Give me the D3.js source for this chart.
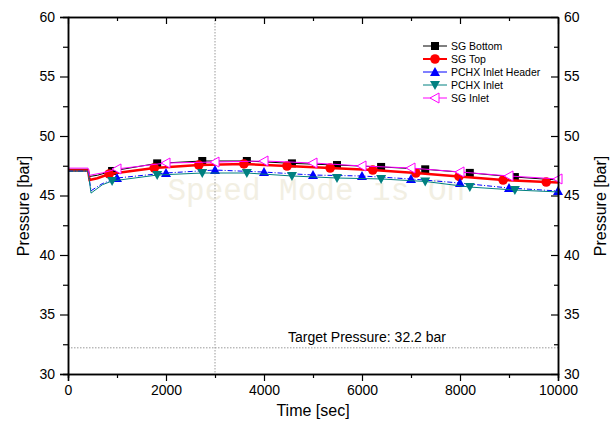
<!DOCTYPE html>
<html>
<head>
<meta charset="utf-8">
<script src="https://cdn.jsdelivr.net/npm/d3@7"></script>
<style>
  body { margin: 0; background: #fff; }
  svg text { font-family: "Liberation Sans", Arial, sans-serif; }
</style>
</head>
<body>
<div id="chart"></div>
<script>
// data (time in sec, pressure in bar)
const sgBottomT = [0, 410, 440, 600, 900, 1820, 2740, 3650, 4570, 5490, 6390, 7290, 8200, 9120, 10000];
const sgBottomP = [47.2, 47.2, 46.6, 46.7, 47.06, 47.7, 47.9, 47.9, 47.7, 47.56, 47.4, 47.2, 46.9, 46.55, 46.3];
const sgBottomMarks = [4, 5, 6, 7, 8, 9, 10, 11, 12, 13];

const sgTopT = [0, 410, 440, 600, 840, 1760, 2670, 3590, 4470, 5350, 6220, 7100, 7980, 8880, 9760, 10000];
const sgTopP = [47.1, 47.1, 46.3, 46.45, 46.81, 47.31, 47.56, 47.65, 47.48, 47.31, 47.14, 46.89, 46.6, 46.3, 46.13, 46.1];
const sgTopMarks = [4, 5, 6, 7, 8, 9, 10, 11, 12, 13, 14];

const headerT = [0, 410, 470, 700, 1000, 2000, 3000, 4000, 5000, 6000, 7000, 8000, 9000, 10000];
const headerP = [47.05, 47.05, 45.4, 46.0, 46.47, 46.89, 47.14, 46.97, 46.72, 46.64, 46.39, 46.05, 45.63, 45.38];
const headerMarks = [4, 5, 6, 7, 8, 9, 10, 11, 12, 13];

const pchxT = [0, 410, 470, 700, 900, 1820, 2740, 3650, 4570, 5490, 6390, 7290, 8200, 9120, 10000];
const pchxP = [47.05, 47.05, 45.2, 45.9, 46.22, 46.72, 46.89, 46.89, 46.64, 46.47, 46.39, 46.18, 45.71, 45.46, 45.3];
const pchxMarks = [4, 5, 6, 7, 8, 9, 10, 11, 12, 13];

const sgInletT = [0, 410, 440, 700, 1000, 2000, 3000, 4000, 5000, 6000, 7000, 8000, 9000, 10000];
const sgInletP = [47.3, 47.3, 46.7, 46.9, 47.23, 47.73, 47.81, 47.9, 47.73, 47.48, 47.31, 46.98, 46.64, 46.39];
const sgInletMarks = [4, 5, 6, 7, 8, 9, 10, 11, 12, 13];

const seriesNames = ["SG Bottom", "SG Top", "PCHX Inlet Header", "PCHX Inlet", "SG Inlet"];

const xMajor = [0, 2000, 4000, 6000, 8000, 10000];
const xMinor = [1000, 3000, 5000, 7000, 9000];
const yMajor = [30, 35, 40, 45, 50, 55, 60];
const yMinor = [32.5, 37.5, 42.5, 47.5, 52.5, 57.5];

const targetPressure = 32.2;
const cursorTime = 3000;

// ---- layout
const width = 615, height = 431;
const plot = { left: 68, right: 558, top: 17, bottom: 374 };

const svg = d3.select("#chart").append("svg")
  .attr("width", width)
  .attr("height", height);

const x = d3.scaleLinear().domain([0, 10000]).range([plot.left, plot.right]);
const y = d3.scaleLinear().domain([30, 60]).range([plot.bottom, plot.top]);

// watermark
svg.append("text")
  .attr("x", x(2030))
  .attr("y", y(44.6))
  .style("font-family", "'Liberation Mono', 'DejaVu Sans Mono', monospace")
  .attr("font-size", 31)
  .attr("fill", "#f2efe3")
  .text("Speed Mode is On");

// cursor lines
svg.append("line")
  .attr("x1", x(cursorTime)).attr("x2", x(cursorTime))
  .attr("y1", plot.top).attr("y2", plot.bottom)
  .attr("stroke", "#9a9a9a").attr("stroke-width", 1)
  .attr("stroke-dasharray", "1.5,1.5");

svg.append("line")
  .attr("x1", plot.left).attr("x2", plot.right)
  .attr("y1", y(targetPressure)).attr("y2", y(targetPressure))
  .attr("stroke", "#9a9a9a").attr("stroke-width", 1)
  .attr("stroke-dasharray", "1.5,1.5");

svg.append("text")
  .attr("x", x(4490))
  .attr("y", y(targetPressure) - 6)
  .attr("font-size", 14)
  .text("Target Pressure: " + targetPressure + " bar");

// ---- series
const series = [
  { name: seriesNames[0], t: sgBottomT, p: sgBottomP, marks: sgBottomMarks, color: "#000000", width: 1, dash: null, shape: "square" },
  { name: seriesNames[1], t: sgTopT, p: sgTopP, marks: sgTopMarks, color: "#ff0000", width: 2.5, dash: null, shape: "circle" },
  { name: seriesNames[2], t: headerT, p: headerP, marks: headerMarks, color: "#0000ff", width: 1, dash: "5,2,1,2", shape: "up" },
  { name: seriesNames[3], t: pchxT, p: pchxP, marks: pchxMarks, color: "#008080", width: 1, dash: null, shape: "down" },
  { name: seriesNames[4], t: sgInletT, p: sgInletP, marks: sgInletMarks, color: "#ff00ff", width: 1, dash: null, shape: "left" }
];

const line = d3.line().x(d => x(d[0])).y(d => y(d[1]));

function drawMarker(g, shape, color, cx, cy) {
  if (shape === "square") {
    g.append("rect").attr("x", cx - 4).attr("y", cy - 4).attr("width", 8).attr("height", 8)
      .attr("fill", color);
  } else if (shape === "circle") {
    g.append("circle").attr("cx", cx).attr("cy", cy).attr("r", 4.8).attr("fill", color);
  } else if (shape === "up") {
    g.append("path").attr("d", `M${cx},${cy - 5}L${cx + 5},${cy + 4}L${cx - 5},${cy + 4}Z`).attr("fill", color);
  } else if (shape === "down") {
    g.append("path").attr("d", `M${cx},${cy + 5}L${cx + 5},${cy - 4}L${cx - 5},${cy - 4}Z`).attr("fill", color);
  } else if (shape === "left") {
    g.append("path").attr("d", `M${cx - 5},${cy}L${cx + 4},${cy - 5}L${cx + 4},${cy + 5}Z`)
      .attr("fill", "#fff").attr("stroke", color).attr("stroke-width", 1);
  }
}

series.forEach(s => {
  const pts = s.t.map((t, i) => [t, s.p[i]]);
  const g = svg.append("g");
  g.append("path")
    .datum(pts)
    .attr("d", line)
    .attr("fill", "none")
    .attr("stroke", s.color)
    .attr("stroke-width", s.width)
    .attr("stroke-dasharray", s.dash);
  s.marks.forEach(i => drawMarker(g, s.shape, s.color, x(s.t[i]), y(s.p[i])));
});

// ---- axes
function styleAxis(g) {
  g.select(".domain").attr("stroke", "#000").attr("stroke-width", 1.5);
  g.selectAll(".tick line").attr("stroke", "#000").attr("stroke-width", 1.2);
  g.selectAll("text").attr("font-size", 14).attr("fill", "#000")
    .style("font-family", "'Liberation Sans', Arial, sans-serif");
}

svg.append("g").attr("transform", `translate(0,${plot.bottom})`)
  .call(d3.axisBottom(x).tickValues(xMajor).tickSize(7).tickPadding(4).tickFormat(d3.format("d")))
  .call(styleAxis);
svg.append("g").attr("transform", `translate(0,${plot.bottom})`)
  .call(d3.axisBottom(x).tickValues(xMinor).tickSize(4).tickFormat(""))
  .call(styleAxis);

svg.append("g").attr("transform", `translate(0,${plot.top})`)
  .call(d3.axisTop(x).tickValues(xMajor).tickSizeInner(-7).tickSizeOuter(0).tickFormat(""))
  .call(styleAxis);
svg.append("g").attr("transform", `translate(0,${plot.top})`)
  .call(d3.axisTop(x).tickValues(xMinor).tickSizeInner(-4).tickSizeOuter(0).tickFormat(""))
  .call(styleAxis);

svg.append("g").attr("transform", `translate(${plot.left},0)`)
  .call(d3.axisLeft(y).tickValues(yMajor).tickSize(8).tickPadding(5))
  .call(styleAxis);
svg.append("g").attr("transform", `translate(${plot.left},0)`)
  .call(d3.axisLeft(y).tickValues(yMinor).tickSize(5).tickFormat(""))
  .call(styleAxis);

svg.append("g").attr("transform", `translate(${plot.right},0)`)
  .call(d3.axisRight(y).tickValues(yMajor).tickSizeInner(-7).tickSizeOuter(0).tickPadding(6))
  .call(styleAxis);
svg.append("g").attr("transform", `translate(${plot.right},0)`)
  .call(d3.axisRight(y).tickValues(yMinor).tickSizeInner(-4).tickSizeOuter(0).tickFormat(""))
  .call(styleAxis);

// axis titles
svg.append("text")
  .attr("x", (plot.left + plot.right) / 2)
  .attr("y", 416)
  .attr("text-anchor", "middle")
  .attr("font-size", 16)
  .text("Time [sec]");

svg.append("text")
  .attr("transform", "translate(29,206) rotate(-90)")
  .attr("text-anchor", "middle")
  .attr("font-size", 16)
  .text("Pressure [bar]");

svg.append("text")
  .attr("transform", "translate(606,206) rotate(-90)")
  .attr("text-anchor", "middle")
  .attr("font-size", 16)
  .text("Pressure [bar]");

// ---- legend
const legend = svg.append("g").attr("transform", "translate(423,46)");
series.forEach((s, i) => {
  const row = legend.append("g").attr("transform", `translate(0,${i * 13})`);
  row.append("line").attr("x1", 0).attr("x2", 24).attr("y1", 0).attr("y2", 0)
    .attr("stroke", s.color).attr("stroke-width", s.width === 1 ? 1 : 2);
  drawMarker(row, s.shape, s.color, 12, 0);
  row.append("text").attr("x", 28).attr("y", 4).attr("font-size", 10.5).text(s.name);
});
</script>
</body>
</html>
